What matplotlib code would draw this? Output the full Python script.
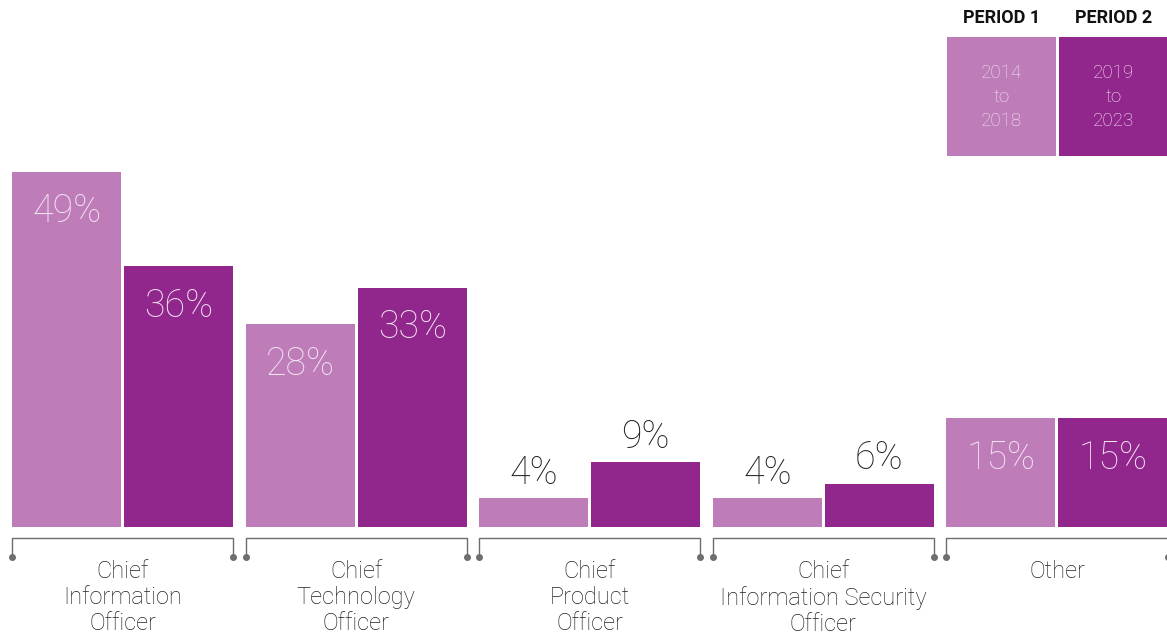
import matplotlib.pyplot as plt
from matplotlib.patches import Rectangle

# Data
categories = [
    "Chief\nInformation\nOfficer",
    "Chief\nTechnology\nOfficer",
    "Chief\nProduct\nOfficer",
    "Chief\nInformation Security\nOfficer",
    "Other",
]
period1 = [49, 28, 4, 4, 15]
period2 = [36, 33, 9, 6, 15]
series_names = ["PERIOD 1", "PERIOD 2"]
series_ranges = ["2014\nto\n2018", "2019\nto\n2023"]

light = "#BE7DB9"
dark = "#91268C"
inner_txt = "#F3E4F1"
font = "Roboto"

W, H = 1167, 634
fig = plt.figure(figsize=(W / 100, H / 100), dpi=100)

# axes: baseline at 527 px from top, 7.25 px per percent
base_px = 527
px_per_pct = 7.25
ax = fig.add_axes([0, (H - base_px) / H, 1, base_px / H])
ax.set_ylim(0, base_px / px_per_pct)
pitch = 233.6
ax.set_xlim(-122.5 / pitch, 4 + 110 / pitch)
ax.axis("off")

bw = 109 / pitch
off = 56 / pitch
x = list(range(len(categories)))

b1 = ax.bar([i - off for i in x], period1, width=bw, color=light, linewidth=0)
b2 = ax.bar([i + off for i in x], period2, width=bw, color=dark, linewidth=0)

inside_drop = 40 / px_per_pct
above_gap = 25 / px_per_pct
for bars, vals in [(b1, period1), (b2, period2)]:
    for rect, v in zip(bars, vals):
        cx = rect.get_x() + rect.get_width() / 2
        if v >= 10:
            ax.text(cx, v - inside_drop, f"{v}%", ha="center", va="center",
                    fontsize=27, color=inner_txt, family=font, fontweight="light")
        else:
            ax.text(cx, v + above_gap, f"{v}%", ha="center", va="center",
                    fontsize=27, color="#222222", family=font, fontweight="light")

# brackets and category labels (figure pixel coords)
def px(xp, yp):
    return xp / W, 1 - yp / H

grey = "#6E6E6E"
for i, cat in enumerate(categories):
    left = b1[i].get_x()
    right = b2[i].get_x() + b2[i].get_width()
    lx = ax.transData.transform((left, 0))[0] / W
    rx = ax.transData.transform((right, 0))[0] / W
    y0 = 1 - 538 / H
    y1 = 1 - 557 / H
    fig.lines.append(plt.Line2D([lx, lx, rx, rx], [y1, y0, y0, y1],
                                transform=fig.transFigure, color=grey, lw=1))
    fig.lines.append(plt.Line2D([lx, rx], [y1, y1], transform=fig.transFigure,
                                linestyle="none", marker="o", ms=4, color=grey))
    cx = (lx + rx) / 2
    fig.text(cx, 1 - 560 / H, cat, ha="center", va="top", fontsize=17,
             color="#222222", family=font, fontweight="light", linespacing=1.16)

# legend boxes
for j, (name, rng, col) in enumerate(zip(series_names, series_ranges, [light, dark])):
    x0 = 947 + j * 112
    fig.patches.append(Rectangle(px(x0, 156), 109 / W, 119 / H,
                                 transform=fig.transFigure, color=col, lw=0))
    cx = (x0 + 54.5) / W
    fig.text(cx, 1 - 97 / H, rng, ha="center", va="center", fontsize=13.5,
             color=inner_txt, family=font, fontweight="light", linespacing=1.45)
    fig.text(cx, 1 - 18 / H, name, ha="center", va="center", fontsize=13,
             color="#111111", family=font, fontweight="bold")

plt.savefig("out.png", dpi=100)
plt.close()
